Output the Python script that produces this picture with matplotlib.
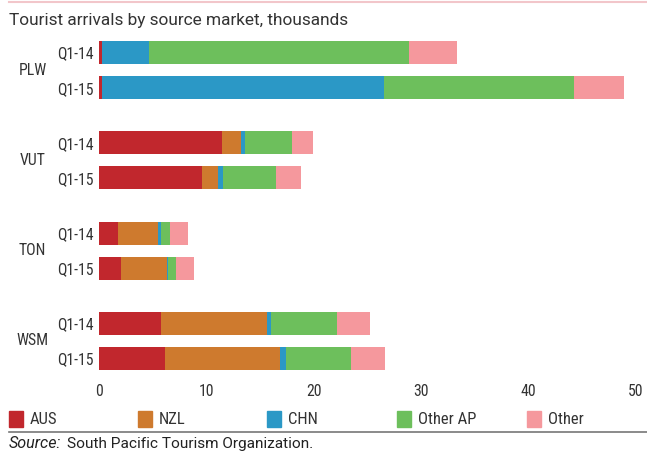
import matplotlib
matplotlib.use("Agg")
import matplotlib.pyplot as plt
import matplotlib.patches as pat
from matplotlib import font_manager
import numpy as np

# data, thousands of arrivals
countries = ["PLW", "VUT", "TON", "WSM"]
periods = ["Q1-14", "Q1-15"]
markets = ["AUS", "NZL", "CHN", "Other AP", "Other"]
colors = ["#C1272D", "#CE7A2E", "#2B98C6", "#6DBF5C", "#F5989D"]

aus = [0.3, 0.3, 11.45, 9.6, 1.75, 2.05, 5.75, 6.15]
nzl = [0.0, 0.0, 1.8, 1.5, 3.75, 4.3, 9.9, 10.7]
chn = [4.35, 26.25, 0.3, 0.45, 0.3, 0.1, 0.35, 0.55]
other_ap = [24.2, 17.65, 4.4, 4.9, 0.8, 0.75, 6.2, 6.1]
other = [4.5, 4.7, 1.95, 2.35, 1.7, 1.65, 3.0, 3.15]

# pick a narrow face if one is around
names = {f.name for f in font_manager.fontManager.ttflist}
fp = dict(family="DejaVu Sans", stretch="condensed")
for n in ["Liberation Sans Narrow", "Roboto Condensed", "Open Sans Condensed"]:
    if n in names:
        fp = dict(family=n, stretch="normal")
        break
narrow = font_manager.FontProperties(size=11.3, **fp)
narrow_leg = font_manager.FontProperties(size=12, **fp)

fig = plt.figure(figsize=(6.47, 4.53), dpi=100)
H = 453.0
ax = fig.add_axes([99/647, (H-370)/H, (636-99)/647, 329/H])

pos = []
for g in range(len(countries)):
    for i in range(len(periods)):
        pos.append(g*2.57 + i)
pos = np.array(pos)
bh = 23/35.

left = np.zeros(len(pos))
for vals, c in zip([aus, nzl, chn, other_ap, other], colors):
    ax.barh(pos, vals, left=left, height=bh, color=c, linewidth=0)
    left += np.array(vals)

ax.set_xlim(0, 50)
ax.set_ylim(pos[-1] + bh/2, pos[0] - bh/2)
ax.set_xticks([0, 10, 20, 30, 40, 50])
ax.set_yticks(pos)
ax.set_yticklabels(periods*len(countries))
for s in ax.spines.values():
    s.set_visible(False)
ax.tick_params(axis="x", length=0, pad=10, labelcolor="#333333")
ax.tick_params(axis="y", length=0, pad=4, labelcolor="#333333")
for lab in ax.get_xticklabels() + ax.get_yticklabels():
    lab.set_fontproperties(narrow)

# country labels
for g, name in enumerate(countries):
    yc = (pos[2*g] + pos[2*g+1]) / 2
    ax.text(-6.2, yc, name, ha="center", va="center", fontproperties=narrow,
            color="#333333", transform=ax.transData, clip_on=False)

# title and lines
fig.text(9/647, 1-20/H, "Tourist arrivals by source market, thousands",
         fontsize=12.4, family=["Roboto", "DejaVu Sans"],
         color="#333333", va="center")
fig.add_artist(plt.Line2D([9/647, 1], [1-1.5/H, 1-1.5/H], color="#F2C6CA", lw=1.5))
fig.add_artist(plt.Line2D([9/647, 1], [1-432/H, 1-432/H], color="#777777", lw=1.2))

# legend
lx = [9, 138, 267, 397, 527]
for x, m, c in zip(lx, markets, colors):
    fig.add_artist(pat.Rectangle((x/647, 1-427/H), 14/647, 16/H, color=c,
                                 transform=fig.transFigure))
    fig.text((x+21)/647, 1-419/H, m, fontproperties=narrow_leg,
             color="#333333", va="center")

fig.text(9/647, 1-444/H, "Source:", fontsize=11.6, style="italic",
         family=["Roboto", "DejaVu Sans"], color="#222222", va="center")
fig.text(67/647, 1-444/H, "South Pacific Tourism Organization.", fontsize=11.1,
         family=["Roboto", "DejaVu Sans"], color="#222222", va="center")

fig.savefig("out.png", dpi=100)
